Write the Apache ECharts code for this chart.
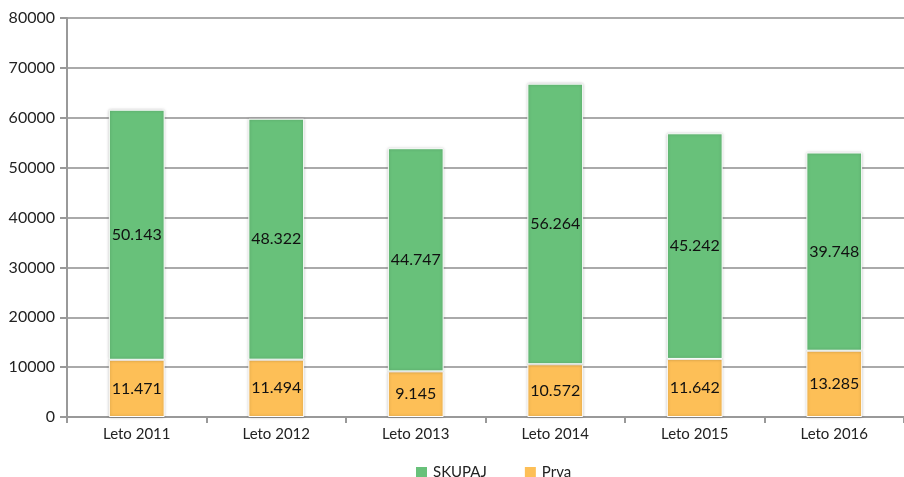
<!DOCTYPE html>
<html><head><meta charset="utf-8">
<script src="https://cdn.jsdelivr.net/npm/echarts@6/dist/echarts.min.js"></script>
<style>html,body{margin:0;padding:0;background:#fff}#c{width:904px;height:477px}</style>
</head><body><div id="c"></div>
<script>
const categories = ['Leto 2011','Leto 2012','Leto 2013','Leto 2014','Leto 2015','Leto 2016'];
const prva = [11471, 11494, 9145, 10572, 11642, 13285];
const skupaj = [50143, 48322, 44747, 56264, 45242, 39748];
const yTicks = [0,10000,20000,30000,40000,50000,60000,70000,80000];

function fmt(v){ return String(v).replace(/\B(?=(\d{3})+(?!\d))/g, '.'); }
const font = 'Lato, "Open Sans", sans-serif';
const chart = echarts.init(document.getElementById('c'), null, {renderer:'canvas'});
chart.setOption({
  animation:false,
  textStyle:{fontFamily:font},
  grid:{left:67, top:18, bottom:60, right:-9, containLabel:false},
  legend:{
    top:460, left:409, itemWidth:13, itemHeight:13, itemGap:36,
    icon:'rect',
    textStyle:{fontFamily:font, fontSize:15, color:'#222'},
    data:['SKUPAJ','Prva']
  },
  xAxis:{
    type:'category', data:categories,
    axisLine:{lineStyle:{color:'#999', width:2}},
    axisTick:{show:true, length:6, lineStyle:{color:'#999', width:2}},
    axisLabel:{fontFamily:font, fontSize:15, color:'#222', margin:10}
  },
  yAxis:{
    type:'value', min:yTicks[0], max:yTicks[yTicks.length-1], interval:10000,
    axisLine:{show:true, lineStyle:{color:'#999', width:2}},
    axisTick:{show:true, length:7, lineStyle:{color:'#999', width:2}},
    splitLine:{lineStyle:{color:'#aaa', width:2}},
    axisLabel:{fontFamily:font, fontSize:16, color:'#222', margin:12, formatter:v=>String(v)}
  },
  series:[
    {name:'Prva', type:'bar', stack:'a', data:prva, barWidth:'40%',
     itemStyle:{color:'#FDBF57', borderColor:'#fff', borderWidth:1, shadowColor:'rgba(0,0,0,0.25)', shadowBlur:3},
     label:{show:true, position:'inside', formatter:p=>fmt(p.value), fontFamily:font, fontSize:16, color:'#111'}},
    {name:'SKUPAJ', type:'bar', stack:'a', data:skupaj, barWidth:'40%',
     itemStyle:{color:'#68C17A', borderColor:'#fff', borderWidth:1, shadowColor:'rgba(0,0,0,0.25)', shadowBlur:3},
     label:{show:true, position:'inside', formatter:p=>fmt(p.value), fontFamily:font, fontSize:16, color:'#111'}}
  ]
});
</script></body></html>
